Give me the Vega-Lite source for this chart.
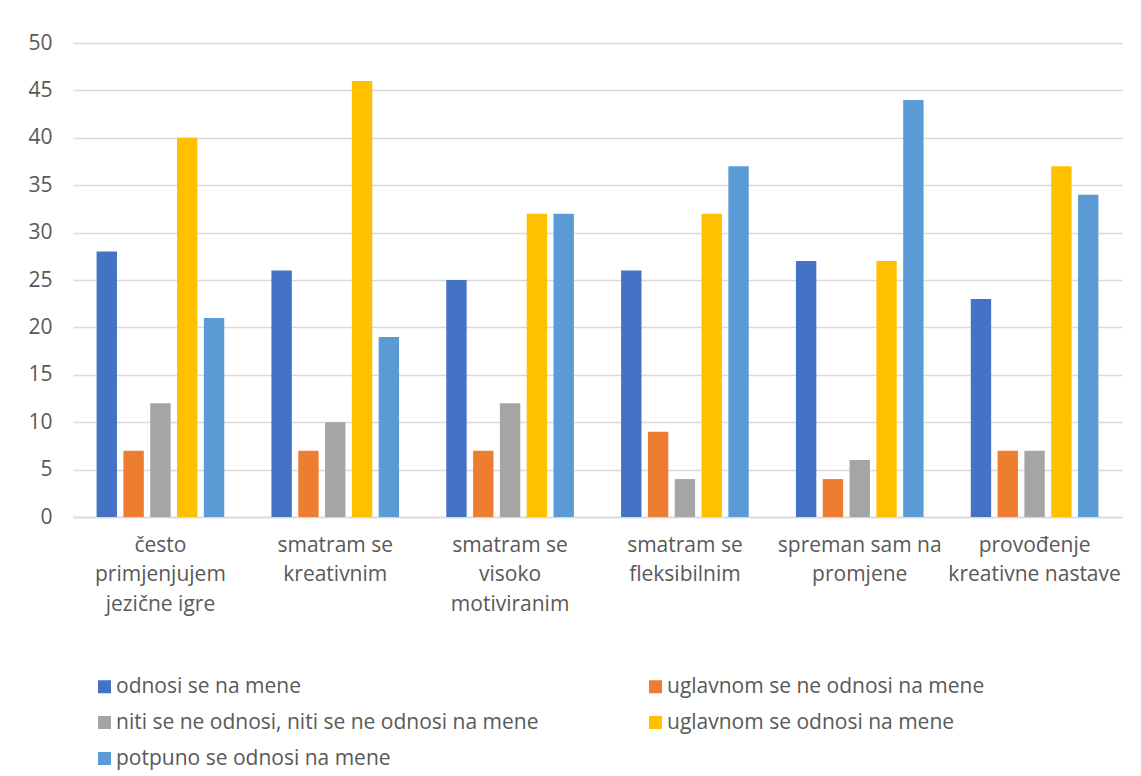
{
  "$schema": "https://vega.github.io/schema/vega-lite/v6.json",
  "width": 1049,
  "height": 474,
  "autosize": {"type": "none"},
  "padding": {"left": 73, "top": 43, "right": 19, "bottom": 259},
  "background": "white",
  "config": {
    "view": {"stroke": null},
    "font": "Open Sans"
  },
  "data": {
    "values": [
      {"cat": "često primjenjujem jezične igre", "s": "odnosi se na mene", "v": 28},
      {"cat": "često primjenjujem jezične igre", "s": "uglavnom se ne odnosi na mene", "v": 7},
      {"cat": "često primjenjujem jezične igre", "s": "niti se ne odnosi, niti se ne odnosi na mene", "v": 12},
      {"cat": "često primjenjujem jezične igre", "s": "uglavnom se odnosi na mene", "v": 40},
      {"cat": "često primjenjujem jezične igre", "s": "potpuno se odnosi na mene", "v": 21},
      {"cat": "smatram se kreativnim", "s": "odnosi se na mene", "v": 26},
      {"cat": "smatram se kreativnim", "s": "uglavnom se ne odnosi na mene", "v": 7},
      {"cat": "smatram se kreativnim", "s": "niti se ne odnosi, niti se ne odnosi na mene", "v": 10},
      {"cat": "smatram se kreativnim", "s": "uglavnom se odnosi na mene", "v": 46},
      {"cat": "smatram se kreativnim", "s": "potpuno se odnosi na mene", "v": 19},
      {"cat": "smatram se visoko motiviranim", "s": "odnosi se na mene", "v": 25},
      {"cat": "smatram se visoko motiviranim", "s": "uglavnom se ne odnosi na mene", "v": 7},
      {"cat": "smatram se visoko motiviranim", "s": "niti se ne odnosi, niti se ne odnosi na mene", "v": 12},
      {"cat": "smatram se visoko motiviranim", "s": "uglavnom se odnosi na mene", "v": 32},
      {"cat": "smatram se visoko motiviranim", "s": "potpuno se odnosi na mene", "v": 32},
      {"cat": "smatram se fleksibilnim", "s": "odnosi se na mene", "v": 26},
      {"cat": "smatram se fleksibilnim", "s": "uglavnom se ne odnosi na mene", "v": 9},
      {"cat": "smatram se fleksibilnim", "s": "niti se ne odnosi, niti se ne odnosi na mene", "v": 4},
      {"cat": "smatram se fleksibilnim", "s": "uglavnom se odnosi na mene", "v": 32},
      {"cat": "smatram se fleksibilnim", "s": "potpuno se odnosi na mene", "v": 37},
      {"cat": "spreman sam na promjene", "s": "odnosi se na mene", "v": 27},
      {"cat": "spreman sam na promjene", "s": "uglavnom se ne odnosi na mene", "v": 4},
      {"cat": "spreman sam na promjene", "s": "niti se ne odnosi, niti se ne odnosi na mene", "v": 6},
      {"cat": "spreman sam na promjene", "s": "uglavnom se odnosi na mene", "v": 27},
      {"cat": "spreman sam na promjene", "s": "potpuno se odnosi na mene", "v": 44},
      {"cat": "provođenje kreativne nastave", "s": "odnosi se na mene", "v": 23},
      {"cat": "provođenje kreativne nastave", "s": "uglavnom se ne odnosi na mene", "v": 7},
      {"cat": "provođenje kreativne nastave", "s": "niti se ne odnosi, niti se ne odnosi na mene", "v": 7},
      {"cat": "provođenje kreativne nastave", "s": "uglavnom se odnosi na mene", "v": 37},
      {"cat": "provođenje kreativne nastave", "s": "potpuno se odnosi na mene", "v": 34}
    ]
  },
  "mark": {"type": "bar"},
  "encoding": {
    "x": {
      "field": "cat",
      "type": "nominal",
      "sort": null,
      "scale": {"paddingInner": 0.27, "paddingOuter": 0.135},
      "axis": {
        "title": null,
        "labelAngle": 0,
        "labelFontSize": 21,
        "labelColor": "#595959",
        "labelPadding": 17,
        "labelLineHeight": 29.5,
        "labelBaseline": "top",
        "labelLimit": 300,
        "ticks": false,
        "domainColor": "#d9d9d9",
        "domainWidth": 1.5,
        "labelExpr": "datum.value == 'često primjenjujem jezične igre' ? ['često', 'primjenjujem', 'jezične igre'] : datum.value == 'smatram se kreativnim' ? ['smatram se', 'kreativnim'] : datum.value == 'smatram se visoko motiviranim' ? ['smatram se', 'visoko', 'motiviranim'] : datum.value == 'smatram se fleksibilnim' ? ['smatram se', 'fleksibilnim'] : datum.value == 'spreman sam na promjene' ? ['spreman sam na', 'promjene'] : ['provođenje', 'kreativne nastave']"
      }
    },
    "xOffset": {
      "field": "s",
      "type": "nominal",
      "sort": null,
      "scale": {"paddingInner": 0.24}
    },
    "y": {
      "field": "v",
      "type": "quantitative",
      "scale": {"domain": [0, 50], "nice": false},
      "axis": {
        "title": null,
        "values": [0, 5, 10, 15, 20, 25, 30, 35, 40, 45, 50],
        "labelFontSize": 21,
        "labelColor": "#595959",
        "labelPadding": 21,
        "ticks": false,
        "domain": false,
        "gridColor": "#d9d9d9",
        "gridWidth": 1.5
      }
    },
    "color": {
      "field": "s",
      "type": "nominal",
      "sort": null,
      "scale": {
        "domain": ["odnosi se na mene", "uglavnom se ne odnosi na mene", "niti se ne odnosi, niti se ne odnosi na mene", "uglavnom se odnosi na mene", "potpuno se odnosi na mene"],
        "range": ["#4472C4", "#ED7D31", "#A5A5A5", "#FFC000", "#5B9BD5"]
      },
      "legend": {
        "title": null,
        "orient": "none",
        "direction": "horizontal",
        "legendX": 21,
        "legendY": 633,
        "columns": 2,
        "columnPadding": 106,
        "rowPadding": 14,
        "symbolType": "square",
        "symbolSize": 169,
        "symbolStrokeWidth": 0,
        "labelFontSize": 21,
        "labelColor": "#595959",
        "labelOffset": 1,
        "labelLimit": 600
      }
    }
  }
}
